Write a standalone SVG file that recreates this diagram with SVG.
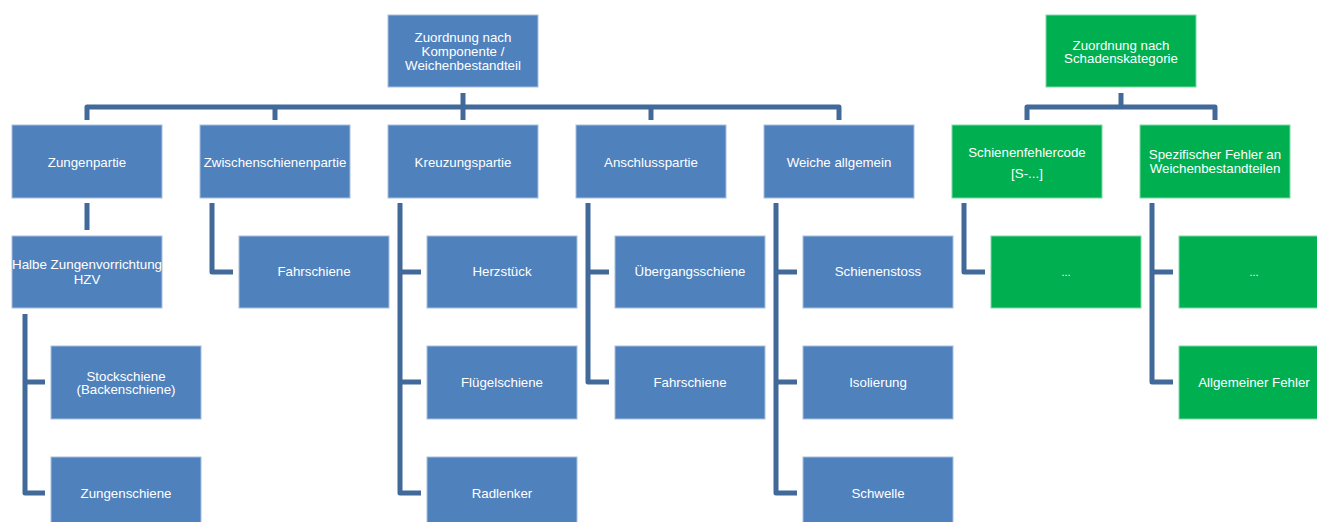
<svg xmlns="http://www.w3.org/2000/svg" width="1317" height="522" viewBox="0 0 1317 522">
<style>
.b{fill:#4F81BD;stroke:#A9C0DE;stroke-width:1}
.g{fill:#00B050;stroke:#7FD7A7;stroke-width:1}
.t{fill:#FFFFFF;font-family:"Liberation Sans",Arial,sans-serif;font-size:13.3px;text-anchor:middle}
.c{fill:none;stroke:#41699A;stroke-width:5;stroke-linejoin:round;stroke-linecap:butt}
</style>
<rect width="1317" height="522" fill="#FFFFFF"/>
<g id="connectors">
<path class="c" d="M463,93 V120"/>
<path class="c" d="M87,120 V107 H839 V120"/>
<path class="c" d="M275,107 V120"/>
<path class="c" d="M651,107 V120"/>
<path class="c" d="M1121,93 V107"/>
<path class="c" d="M1027,120 V107 H1215 V120"/>
<path class="c" d="M87,203 V230"/>
<path class="c" d="M212,203 V272 H233"/>
<path class="c" d="M25,314 V493 H45"/>
<path class="c" d="M25,382 H45"/>
<path class="c" d="M400,203 V493 H421"/>
<path class="c" d="M400,272 H421"/>
<path class="c" d="M400,382 H421"/>
<path class="c" d="M588,203 V382 H609"/>
<path class="c" d="M588,272 H609"/>
<path class="c" d="M776,203 V493 H797"/>
<path class="c" d="M776,272 H797"/>
<path class="c" d="M776,382 H797"/>
<path class="c" d="M964,203 V272 H985"/>
<path class="c" d="M1152,203 V382 H1173"/>
<path class="c" d="M1152,272 H1173"/>
</g>
<g id="root-komponente"><rect class="b" x="388" y="15" width="150" height="72"/><text class="t" x="463" y="42">Zuordnung nach</text><text class="t" x="463" y="56">Komponente /</text><text class="t" x="463" y="70">Weichenbestandteil</text></g>
<g id="root-schaden"><rect class="g" x="1046" y="15" width="150" height="72"/><text class="t" x="1121" y="50">Zuordnung nach</text><text class="t" x="1121" y="63">Schadenskategorie</text></g>
<g id="zungenpartie"><rect class="b" x="12" y="125" width="150" height="73"/><text class="t" x="87" y="166.5">Zungenpartie</text></g>
<g id="zwischenschienenpartie"><rect class="b" x="200" y="125" width="150" height="73"/><text class="t" x="275" y="166.5">Zwischenschienenpartie</text></g>
<g id="kreuzungspartie"><rect class="b" x="388" y="125" width="150" height="73"/><text class="t" x="463" y="166.5">Kreuzungspartie</text></g>
<g id="anschlusspartie"><rect class="b" x="576" y="125" width="150" height="73"/><text class="t" x="651" y="166.5">Anschlusspartie</text></g>
<g id="weiche-allgemein"><rect class="b" x="764" y="125" width="150" height="73"/><text class="t" x="839" y="166.5">Weiche allgemein</text></g>
<g id="schienenfehlercode"><rect class="g" x="952" y="125" width="150" height="73"/><text class="t" x="1027" y="156.5">Schienenfehlercode</text><text class="t" x="1027" y="178">[S-...]</text></g>
<g id="spezifischer-fehler"><rect class="g" x="1140" y="125" width="150" height="73"/><text class="t" x="1215" y="159">Spezifischer Fehler an</text><text class="t" x="1215" y="173">Weichenbestandteilen</text></g>
<g id="hzv"><rect class="b" x="12" y="236" width="150" height="72"/><text class="t" x="87" y="269" textLength="150" lengthAdjust="spacingAndGlyphs">Halbe Zungenvorrichtung</text><text class="t" x="87" y="283.5">HZV</text></g>
<g id="stockschiene"><rect class="b" x="51" y="346" width="150" height="73"/><text class="t" x="126" y="380.5">Stockschiene</text><text class="t" x="126" y="394">(Backenschiene)</text></g>
<g id="zungenschiene"><rect class="b" x="51" y="457" width="150" height="73"/><text class="t" x="126" y="497.5">Zungenschiene</text></g>
<g id="fahrschiene-1"><rect class="b" x="239" y="236" width="150" height="72"/><text class="t" x="314" y="276">Fahrschiene</text></g>
<g id="herzstueck"><rect class="b" x="427" y="236" width="150" height="72"/><text class="t" x="502" y="276">Herzstück</text></g>
<g id="fluegelschiene"><rect class="b" x="427" y="346" width="150" height="73"/><text class="t" x="502" y="387">Flügelschiene</text></g>
<g id="radlenker"><rect class="b" x="427" y="457" width="150" height="73"/><text class="t" x="502" y="497.5">Radlenker</text></g>
<g id="uebergangsschiene"><rect class="b" x="615" y="236" width="150" height="72"/><text class="t" x="690" y="276">Übergangsschiene</text></g>
<g id="fahrschiene-2"><rect class="b" x="615" y="346" width="150" height="73"/><text class="t" x="690" y="387">Fahrschiene</text></g>
<g id="schienenstoss"><rect class="b" x="803" y="236" width="150" height="72"/><text class="t" x="878" y="276">Schienenstoss</text></g>
<g id="isolierung"><rect class="b" x="803" y="346" width="150" height="73"/><text class="t" x="878" y="387">Isolierung</text></g>
<g id="schwelle"><rect class="b" x="803" y="457" width="150" height="73"/><text class="t" x="878" y="497.5">Schwelle</text></g>
<g id="code-dots"><rect class="g" x="991" y="236" width="150" height="72"/><text class="t" x="1066" y="276" style="font-size:11px">...</text></g>
<g id="spez-dots"><rect class="g" x="1179" y="236" width="150" height="72"/><text class="t" x="1254" y="276" style="font-size:11px">...</text></g>
<g id="allgemeiner-fehler"><rect class="g" x="1179" y="346" width="150" height="73"/><text class="t" x="1254" y="387">Allgemeiner Fehler</text></g>
</svg>
